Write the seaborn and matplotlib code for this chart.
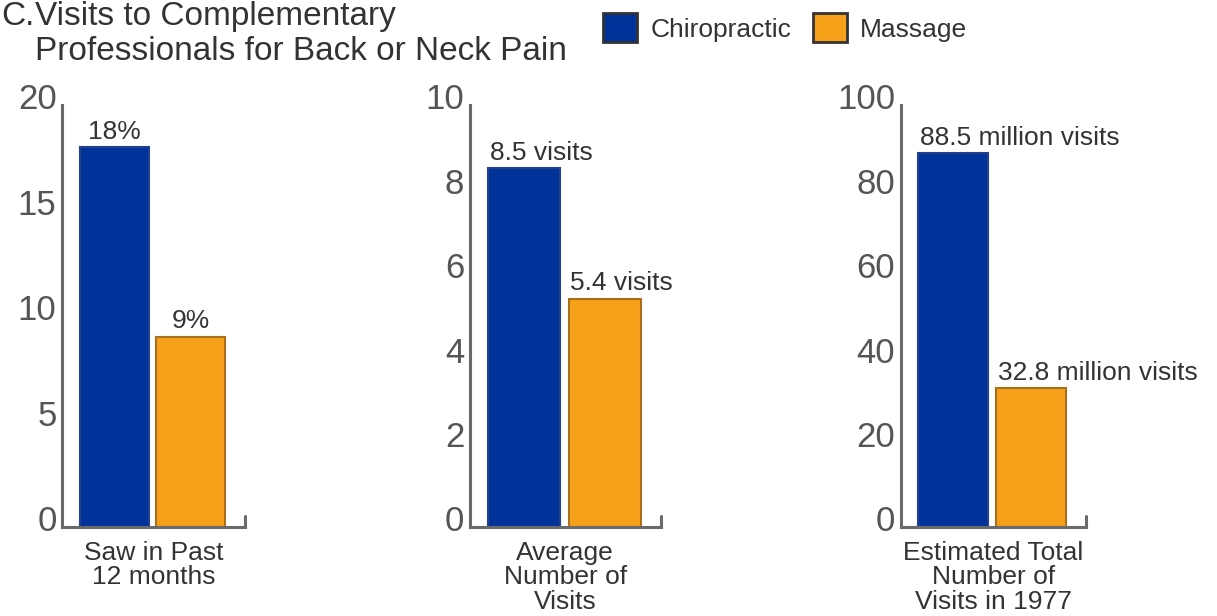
import pandas as pd
import matplotlib.pyplot as plt
import seaborn as sns
from matplotlib.patches import Patch
from matplotlib.transforms import ScaledTranslation

sns.set_style('white')
plt.rcParams['font.family'] = ['Liberation Sans', 'DejaVu Sans']

types = ['Chiropractic', 'Massage']
colors = ['#003399', '#F7A11A']
edges = ['#22408f', '#a8701c']

saw_past = [18, 9]
saw_labels = ['18%', '9%']
avg_visits = [8.5, 5.4]
avg_labels = ['8.5 visits', '5.4 visits']
total_visits = [88.5, 32.8]
total_labels = ['88.5 million visits', '32.8 million visits']

panels = [
    (saw_past, saw_labels, 'Saw in Past\n12 months', 20, 5, 'center'),
    (avg_visits, avg_labels, 'Average\nNumber of\nVisits', 10, 2, 'left'),
    (total_visits, total_labels, 'Estimated Total\nNumber of\nVisits in 1977', 100, 20, 'left'),
]
lefts = [0.051, 0.386, 0.740]
widths = [0.150, 0.157, 0.152]

fig = plt.figure(figsize=(12.17, 6.16), dpi=100)
txt = '#333333'
axcol = '#6a6a6a'

for (vals, labs, xlab, ymax, step, ha), l, w in zip(panels, lefts, widths):
    ax = fig.add_axes([l, 0.145, w, 0.685])
    df = pd.DataFrame({'type': types, 'value': vals})
    sns.barplot(data=df, x='type', y='value', hue='type', palette=colors,
                saturation=1, width=0.9, legend=False, ax=ax)
    for p, ec in zip(ax.patches, edges):
        p.set_edgecolor(ec)
        p.set_linewidth(1.5)
    for p, lab in zip(ax.patches, labs):
        if ha == 'center':
            x = p.get_x() + p.get_width() / 2
        else:
            x = p.get_x() + 0.02
        ax.text(x, p.get_height() + ymax * 0.008, lab, ha=ha, va='bottom',
                fontsize=19, color=txt)
    ax.set_xlim(-0.68, 1.7)
    ax.set_ylim(0, ymax)
    ax.set_yticks(range(0, ymax + 1, step))
    ax.set_xticks([])
    ax.set_xlabel(xlab, fontsize=19, color=txt, labelpad=10, linespacing=1.04)
    ax.set_ylabel('')
    for s in ['top', 'right']:
        ax.spines[s].set_visible(False)
    for s in ['left', 'bottom']:
        ax.spines[s].set_color(axcol)
        ax.spines[s].set_linewidth(2.2)
    ax.tick_params(axis='y', length=4, width=1.5, color='#222222', pad=0,
                   labelsize=25, labelcolor='#555555')
    off = ScaledTranslation(0, 6 / 72, fig.dpi_scale_trans)
    for t in ax.get_yticklabels():
        t.set_transform(t.get_transform() + off)
    ax.plot([1, 1], [0, 0.025], transform=ax.transAxes, color=axcol,
            lw=2.2, clip_on=False)

fig.text(0.001, 0.998, 'C.', fontsize=24, color=txt, va='top')
fig.text(0.029, 0.998, 'Visits to Complementary\nProfessionals for Back or Neck Pain',
         fontsize=24, color=txt, va='top', linespacing=1.14)

handles = [Patch(facecolor=c, edgecolor='#333333', linewidth=2) for c in colors]
fig.legend(handles, types, loc='upper left', bbox_to_anchor=(0.476, 1.017),
           ncol=2, frameon=False, fontsize=19, handlelength=1.3, handleheight=1.3,
           columnspacing=0.8, handletextpad=0.5, labelcolor=txt)

fig.savefig('out.png', dpi=100)
